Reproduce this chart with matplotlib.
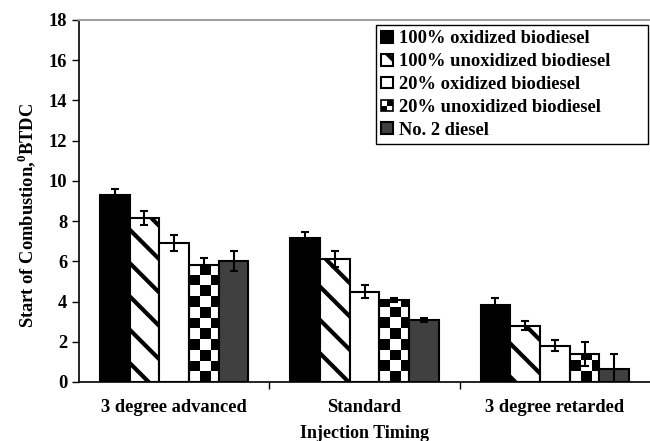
import numpy as np
import matplotlib
matplotlib.use("Agg")
import matplotlib.pyplot as plt
from matplotlib.patches import Rectangle, Patch
from matplotlib.legend_handler import HandlerPatch

plt.rcParams["font.family"] = ["Liberation Serif", "DejaVu Serif"]
plt.rcParams["font.weight"] = "bold"
plt.rcParams["mathtext.fontset"] = "custom"
plt.rcParams["mathtext.rm"] = "Liberation Serif:bold"
plt.rcParams["mathtext.bf"] = "Liberation Serif:bold"
plt.rcParams["hatch.linewidth"] = 3.0

# Daten
timings = ["3 degree advanced", "Standard", "3 degree retarded"]
series = ["100% oxidized biodiesel", "100% unoxidized biodiesel",
          "20% oxidized biodiesel", "20% unoxidized biodiesel", "No. 2 diesel"]
values = [
    [9.3, 7.15, 3.85],
    [8.15, 6.1, 2.8],
    [6.9, 4.5, 1.8],
    [5.8, 4.1, 1.4],
    [6.0, 3.1, 0.65],
]
errors = [
    [0.28, 0.33, 0.33],
    [0.33, 0.4, 0.22],
    [0.4, 0.3, 0.27],
    [0.37, 0.1, 0.6],
    [0.5, 0.1, 0.75],
]

W, H = 650, 441
fig = plt.figure(figsize=(W / 100, H / 100), dpi=100)
ax = fig.add_axes([79 / W, 1 - 382 / H, 571 / W, 362 / H])

x = np.arange(len(timings))
bar_w = 0.156
styles = [
    dict(facecolor="black", hatch=None),
    dict(facecolor="white", hatch="\\"),
    dict(facecolor="white", hatch=None),
    dict(facecolor="none", hatch=None),
    dict(facecolor="#404040", hatch=None),
]

handles = []
for i, (name, vals, errs, st) in enumerate(zip(series, values, errors, styles)):
    pos = x + (i - 2) * bar_w
    bars = ax.bar(pos, vals, bar_w, color=st["facecolor"], edgecolor="black",
                  linewidth=1.5, hatch=st["hatch"], zorder=3, label=name)
    ax.errorbar(pos, vals, yerr=errs, fmt="none", ecolor="black",
                elinewidth=1.5, capsize=3, capthick=1.5, zorder=4)
    if i == 3:
        # Schachbrettmuster in die Balken
        sq_px = 10.7
        for b in bars:
            bx, bw, bh = b.get_x(), b.get_width(), b.get_height()
            sx = sq_px / (571 / 3)
            sy = sq_px / (362 / 18)
            nx = int(np.ceil(bw / sx))
            ny = int(np.ceil(bh / sy))
            board = (np.add.outer(np.arange(ny), np.arange(nx)) % 2)[::-1]
            im = ax.imshow(board, cmap="gray_r", interpolation="nearest",
                           extent=[bx, bx + nx * sx, 0, ny * sy],
                           aspect="auto", zorder=2)
            im.set_clip_path(b)
        handles.append(Patch(facecolor="white", edgecolor="black", label=name))
    else:
        handles.append(bars)


class CheckerHandler(HandlerPatch):
    def create_artists(self, legend, orig_handle, xdescent, ydescent,
                       width, height, fontsize, trans):
        s = min(width, height)
        x0, y0 = -xdescent, -ydescent
        base = Rectangle((x0, y0), s, s, facecolor="white", edgecolor="black",
                         lw=1.2, transform=trans)
        a = Rectangle((x0, y0), s / 2, s / 2, facecolor="black", lw=0,
                      transform=trans)
        b = Rectangle((x0 + s / 2, y0 + s / 2), s / 2, s / 2,
                      facecolor="black", lw=0, transform=trans)
        return [base, a, b]


ax.set_xlim(-0.5, 2.5)
ax.set_ylim(0, 18)
ax.set_yticks(np.arange(0, 19, 2))
ax.set_xticks(x)
ax.set_xticklabels(timings)
ax.set_xticks([0.5, 1.5], minor=True)
ax.tick_params(axis="x", which="major", length=0, pad=12, labelsize=13.3)
ax.tick_params(axis="x", which="minor", length=5, width=1, direction="out")
ax.tick_params(axis="y", length=5, width=1, direction="out", labelsize=13.3)

ax.spines["right"].set_visible(False)
ax.spines["top"].set_color("#a0a0a0")
ax.spines["top"].set_linewidth(1.5)
ax.spines["left"].set_linewidth(1.2)
ax.spines["bottom"].set_linewidth(1.2)

ax.set_xlabel("Injection Timing", fontsize=13, fontweight="bold", labelpad=7)
ax.set_ylabel(r"Start of Combustion,$^{\mathbf{0}}$BTDC", fontsize=13.3,
              fontweight="bold")
ax.yaxis.set_label_coords(-0.072, 0.459)

leg = ax.legend(handles, series, loc="upper left",
                bbox_to_anchor=(376 / W, 1 - 25 / H, 272 / W, 0),
                bbox_transform=fig.transFigure, mode="expand",
                borderaxespad=0, fancybox=False, framealpha=1,
                edgecolor="black", fontsize=13.3, handlelength=0.62,
                handleheight=0.62, handletextpad=0.35, labelspacing=0.32,
                borderpad=0.28,
                handler_map={handles[3]: CheckerHandler()})
leg.get_frame().set_linewidth(1.0)
for t in leg.get_texts():
    t.set_fontweight("bold")

fig.savefig("out.png", dpi=100)
